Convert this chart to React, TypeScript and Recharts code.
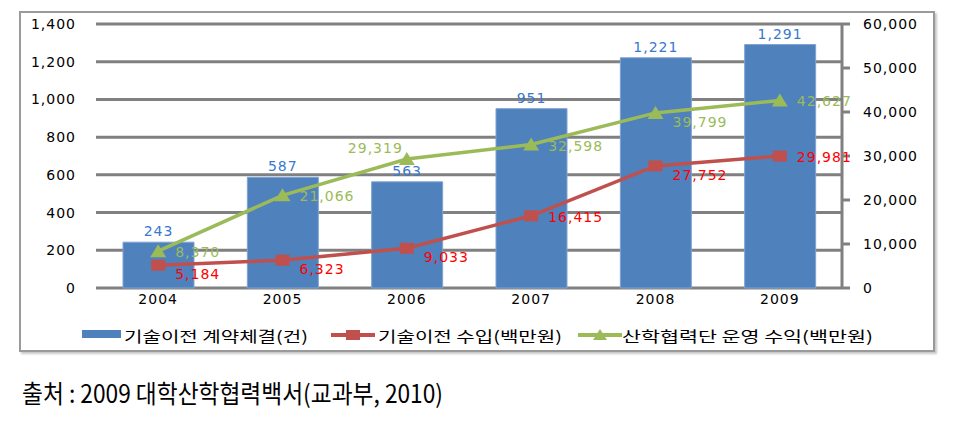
import React from 'react';
import { ComposedChart, Bar, Line, XAxis, YAxis, CartesianGrid, LabelList } from 'recharts';

const years = ['2004', '2005', '2006', '2007', '2008', '2009'];
const contracts = [243, 587, 563, 951, 1221, 1291];
const transferIncome = [5184, 6323, 9033, 16415, 27752, 29981];
const foundationIncome = [8370, 21066, 29319, 32598, 39799, 42627];

const leftTicks = [0, 200, 400, 600, 800, 1000, 1200, 1400];
const rightTicks = [0, 10000, 20000, 30000, 40000, 50000, 60000];

const contractsName = '기술이전 계약체결(건)';
const incomeName = '기술이전 수입(백만원)';
const foundationName = '산학협력단 운영 수익(백만원)';
const sourceNote = '출처 : 2009 대학산학협력백서(교과부, 2010)';

// where each point label sits: r = right, rb = right-below, lt = left-above
const incomeLabelPlace = ['rb', 'rb', 'rb', 'r', 'rb', 'r'];
const foundationLabelPlace = ['r', 'r', 'lt', 'r', 'rb', 'r'];

const data = years.map((year, i) => ({
    year,
    contracts: contracts[i],
    income: transferIncome[i],
    foundation: foundationIncome[i],
}));

const fmt = (v: any) => Number(v).toLocaleString('en-US');

const numStyle = { fontSize: 14, letterSpacing: 1 };

const makeLineLabel = (values: number[], places: string[], color: string) => (props: any) => {
    const { x, y, value } = props;
    let i = props.index;
    if (i == null || places[i] == null) i = values.indexOf(Number(value));
    const place = places[i] || 'r';
    let dx = 17;
    let dy = 1;
    let anchor: any = 'start';
    if (place === 'rb') dy = 9;
    if (place === 'lt') {
        dx = -4;
        dy = -11;
        anchor = 'end';
    }
    return (
        <text
            key={`lbl-${i}`}
            x={x + dx}
            y={y + dy}
            dominantBaseline="central"
            textAnchor={anchor}
            fill={color}
            {...numStyle}
        >
            {fmt(value)}
        </text>
    );
};

const SquareDot = (p: any) => (
    <rect key={`sq-${p.index}`} x={p.cx - 7} y={p.cy - 5.5} width={14} height={11} fill="#C0504D" />
);

const TriangleDot = (p: any) => (
    <polygon
        key={`tr-${p.index}`}
        points={`${p.cx},${p.cy - 7} ${p.cx + 8},${p.cy + 6} ${p.cx - 8},${p.cy + 6}`}
        fill="#9BBB59"
    />
);

const App = () => {
    return (
        <div style={{ position: 'absolute', left: 0, top: 0, width: 970, height: 433, fontFamily: 'DejaVu Sans' }}>
            <div
                style={{
                    position: 'absolute',
                    left: 19,
                    top: 11,
                    width: 916,
                    height: 341,
                    boxSizing: 'border-box',
                    border: '2px solid #9a9a9a',
                    boxShadow: '2px 2px 2px #c8c8c8',
                }}
            />
            <div style={{ position: 'absolute', left: 0, top: 0 }}>
                <ComposedChart width={970} height={360} data={data} margin={{ top: 24, right: 0, left: 0, bottom: 42 }}>
                    <CartesianGrid
                        yAxisId="left"
                        vertical={false}
                        stroke="#808080"
                        strokeWidth={3}
                        horizontalValues={leftTicks}
                    />
                    <XAxis
                        dataKey="year"
                        height={30}
                        axisLine={false}
                        tickLine={false}
                        tickSize={0}
                        tickMargin={6}
                        tick={{ fill: '#000', ...numStyle }}
                    />
                    <YAxis
                        yAxisId="left"
                        orientation="left"
                        width={96}
                        domain={[0, 1400]}
                        ticks={leftTicks}
                        axisLine={false}
                        tickLine={false}
                        tickSize={0}
                        tickMargin={20}
                        tickFormatter={fmt}
                        tick={{ fill: '#000', ...numStyle }}
                    />
                    <YAxis
                        yAxisId="right"
                        orientation="right"
                        width={128}
                        domain={[0, 60000]}
                        ticks={rightTicks}
                        axisLine={{ stroke: '#808080', strokeWidth: 3 }}
                        tickLine={{ stroke: '#808080', strokeWidth: 3 }}
                        tickSize={8}
                        tickMargin={13}
                        tickFormatter={fmt}
                        tick={{ fill: '#000', ...numStyle }}
                    />
                    <Bar
                        yAxisId="left"
                        dataKey="contracts"
                        name={contractsName}
                        fill="#4F81BD"
                        stroke="#7fa3d3"
                        strokeWidth={1}
                        barSize={71}
                        isAnimationActive={false}
                    >
                        <LabelList
                            dataKey="contracts"
                            position="top"
                            offset={6}
                            formatter={fmt}
                            fill="#3A78D0"
                            {...numStyle}
                        />
                    </Bar>
                    <Line
                        yAxisId="right"
                        type="linear"
                        dataKey="income"
                        name={incomeName}
                        stroke="#C0504D"
                        strokeWidth={3.5}
                        dot={SquareDot}
                        activeDot={false}
                        isAnimationActive={false}
                    >
                        <LabelList dataKey="income" content={makeLineLabel(transferIncome, incomeLabelPlace, '#FF0000')} />
                    </Line>
                    <Line
                        yAxisId="right"
                        type="linear"
                        dataKey="foundation"
                        name={foundationName}
                        stroke="#9BBB59"
                        strokeWidth={3.5}
                        dot={TriangleDot}
                        activeDot={false}
                        isAnimationActive={false}
                    >
                        <LabelList
                            dataKey="foundation"
                            content={makeLineLabel(foundationIncome, foundationLabelPlace, '#9BBB59')}
                        />
                    </Line>
                </ComposedChart>
            </div>
            <svg
                width={970}
                height={433}
                style={{ position: 'absolute', left: 0, top: 0, pointerEvents: 'none' }}
                fontFamily="'Noto Sans CJK KR'"
            >
                <rect x={82} y={330} width={39} height={8} fill="#4F81BD" />
                <text x={124} y={335} dominantBaseline="central" fontSize={15} fill="#000" textLength={184} lengthAdjust="spacingAndGlyphs">
                    {contractsName}
                </text>
                <line x1={331} y1={335} x2={375} y2={335} stroke="#C0504D" strokeWidth={4} />
                <rect x={346} y={330} width={14} height={10} fill="#C0504D" />
                <text x={378} y={335} dominantBaseline="central" fontSize={15} fill="#000" textLength={184} lengthAdjust="spacingAndGlyphs">
                    {incomeName}
                </text>
                <line x1={578} y1={335} x2={622} y2={335} stroke="#9BBB59" strokeWidth={4} />
                <polygon points="600,329 607,340 593,340" fill="#9BBB59" />
                <text x={622} y={335} dominantBaseline="central" fontSize={15} fill="#000" textLength={251} lengthAdjust="spacingAndGlyphs">
                    {foundationName}
                </text>
                <text x={22} y={392} dominantBaseline="central" fontSize={25} fill="#000" textLength={421} lengthAdjust="spacingAndGlyphs">
                    {sourceNote}
                </text>
            </svg>
        </div>
    );
};

export default App;
